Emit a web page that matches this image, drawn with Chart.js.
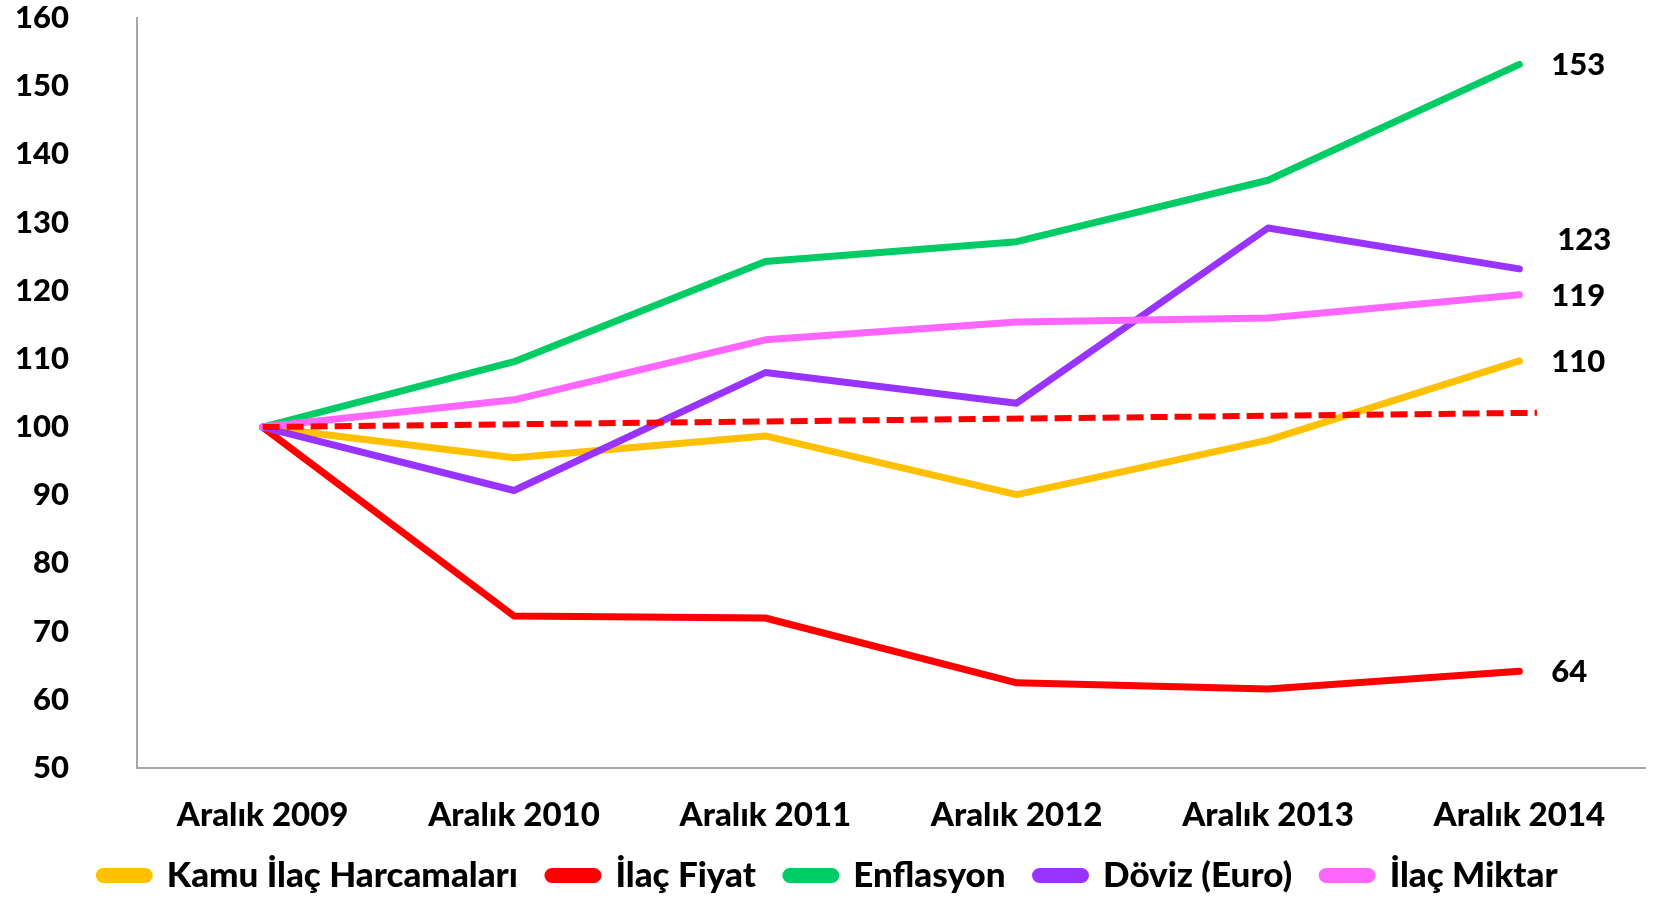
<!DOCTYPE html>
<html>
<head>
<meta charset="utf-8">
<script src="https://cdn.jsdelivr.net/npm/chart.js@4.4.1/dist/chart.umd.min.js"></script>
<style>
  html, body { margin: 0; padding: 0; background: #fff; }
  #wrap { width: 1653px; height: 899px; }
</style>
</head>
<body>
<div id="wrap"><canvas id="grafik" width="1653" height="899"></canvas></div>
<script>
const donemler = ['Aralık 2009', 'Aralık 2010', 'Aralık 2011', 'Aralık 2012', 'Aralık 2013', 'Aralık 2014'];

const kamuHarcama = [100, 95.5, 98.7, 90.1, 98.1, 109.7];
const ilacFiyat = [100, 72.3, 72.0, 62.5, 61.6, 64.2];
const enflasyon = [100, 109.6, 124.3, 127.2, 136.2, 153.2];
const doviz = [100, 90.7, 108.0, 103.5, 129.2, 123.2];
const ilacMiktar = [100, 104.0, 112.8, 115.4, 116.0, 119.4];

// kesikli trend çizgisi (başlangıç ve bitiş)
const trendX = [0, 5.07];
const trendY = [100, 102.1];

const yTikler = [50, 60, 70, 80, 90, 100, 110, 120, 130, 140, 150, 160];

const rakamYazi = { family: 'Lato', weight: '900', size: 31 };
const eksenYazi = { family: 'Lato', weight: '900', size: 33 };
const lejantYazi = { family: 'Lato', weight: '900', size: 35 };

function noktalar(degerler) {
  return degerler.map((v, i) => ({ x: i, y: v }));
}

function seri(ad, degerler, renk, sira) {
  return {
    label: ad,
    data: noktalar(degerler),
    borderColor: renk,
    backgroundColor: renk,
    borderWidth: 7,
    borderCapStyle: 'round',
    borderJoinStyle: 'round',
    pointRadius: 0,
    tension: 0,
    order: sira
  };
}

// son değer etiketleri
const sonEtiketler = {
  id: 'sonEtiketler',
  afterDatasetsDraw(chart) {
    const ctx = chart.ctx;
    const x = chart.scales.x;
    const y = chart.scales.y;
    const kaydir = { 'Döviz (Euro)': [6, -30] };
    ctx.save();
    ctx.font = '900 31px Lato';
    ctx.fillStyle = '#000';
    ctx.textBaseline = 'middle';
    ctx.textAlign = 'left';
    chart.data.datasets.forEach(ds => {
      if (ds.label === 'trend') return;
      const son = ds.data[ds.data.length - 1];
      const k = kaydir[ds.label] || [0, 0];
      ctx.fillText(Math.round(son.y), x.getPixelForValue(son.x) + 32 + k[0], y.getPixelForValue(son.y) + 1 + k[1]);
    });
    ctx.restore();
  }
};

new Chart(document.getElementById('grafik'), {
  type: 'line',
  data: {
    datasets: [
      seri('Kamu İlaç Harcamaları', kamuHarcama, '#FFC000', 5),
      seri('İlaç Fiyat', ilacFiyat, '#FF0000', 4),
      seri('Enflasyon', enflasyon, '#00CC66', 3),
      seri('Döviz (Euro)', doviz, '#9933FF', 2),
      seri('İlaç Miktar', ilacMiktar, '#FF66FF', 1),
      {
        label: 'trend',
        data: trendX.map((v, i) => ({ x: v, y: trendY[i] })),
        borderColor: '#FF0000',
        borderWidth: 6,
        borderDash: [17, 7],
        pointRadius: 0,
        order: 0
      }
    ]
  },
  options: {
    responsive: false,
    animation: false,
    layout: { padding: { left: 12, right: 8, top: 18, bottom: -4 } },
    plugins: {
      tooltip: { enabled: false },
      legend: {
        position: 'bottom',
        labels: {
          font: lejantYazi,
          color: '#000',
          boxWidth: 50,
          boxHeight: 8,
          useBorderRadius: true,
          borderRadius: 4,
          padding: 30,
          filter: item => item.text !== 'trend',
          sort: (a, b) => a.datasetIndex - b.datasetIndex
        }
      }
    },
    scales: {
      x: {
        type: 'linear',
        min: -0.5,
        max: 5.5,
        afterBuildTicks: scale => { scale.ticks = donemler.map((d, i) => ({ value: i })); },
        afterFit: scale => { scale.height = 60; scale.paddingLeft = 0; scale.paddingRight = 0; },
        ticks: {
          font: eksenYazi,
          color: '#000',
          padding: 28,
          maxRotation: 0,
          autoSkip: false,
          callback: v => donemler[v]
        },
        grid: { display: false, drawTicks: false },
        border: { display: true, color: '#A6A6A6', width: 2 }
      },
      y: {
        min: 50,
        max: 160,
        afterBuildTicks: scale => { scale.ticks = yTikler.map(v => ({ value: v })); },
        afterFit: scale => { scale.width = 125; scale.paddingTop = 0; scale.paddingBottom = 0; },
        ticks: { font: rakamYazi, color: '#000', padding: 68 },
        grid: { display: false, drawTicks: false },
        border: { display: true, color: '#A6A6A6', width: 2 }
      }
    }
  },
  plugins: [sonEtiketler]
});
</script>
</body>
</html>
